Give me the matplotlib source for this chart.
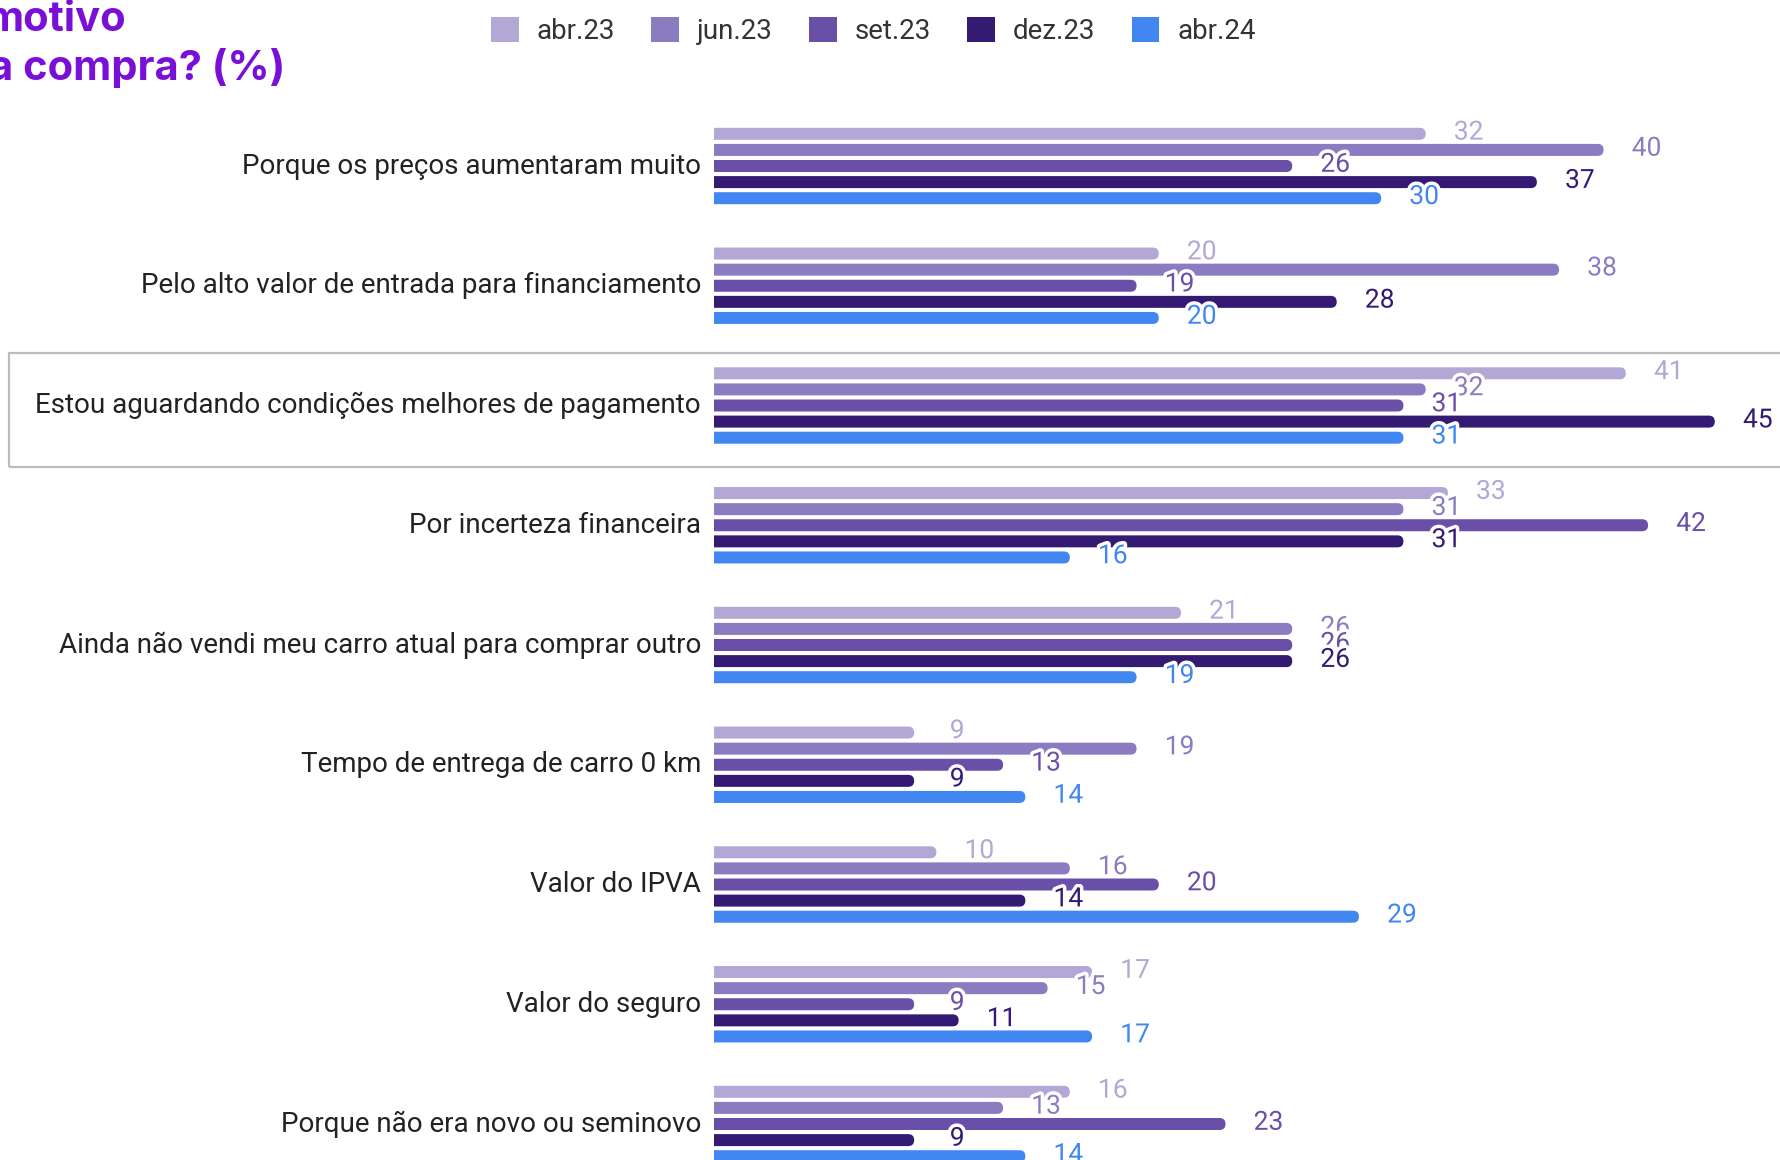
import numpy as np
import matplotlib
matplotlib.use("Agg")
import matplotlib.pyplot as plt
from matplotlib.patches import FancyBboxPatch, Rectangle, Patch
import matplotlib.patheffects as pe

plt.rcParams["font.family"] = ["Roboto", "DejaVu Sans"]

categories = [
    "Porque os preços aumentaram muito",
    "Pelo alto valor de entrada para financiamento",
    "Estou aguardando condições melhores de pagamento",
    "Por incerteza financeira",
    "Ainda não vendi meu carro atual para comprar outro",
    "Tempo de entrega de carro 0 km",
    "Valor do IPVA",
    "Valor do seguro",
    "Porque não era novo ou seminovo",
]
series = ["abr.23", "jun.23", "set.23", "dez.23", "abr.24"]
abr23 = [32, 20, 41, 33, 21, 9, 10, 17, 16]
jun23 = [40, 38, 32, 31, 26, 19, 16, 15, 13]
set23 = [26, 19, 31, 42, 26, 13, 20, 9, 23]
dez23 = [37, 28, 45, 31, 26, 9, 14, 11, 9]
abr24 = [30, 20, 31, 16, 19, 14, 29, 17, 14]
values = [abr23, jun23, set23, dez23, abr24]
colors = ["#b3a7d6", "#8b7cc1", "#6a4fa8", "#341a72", "#4286f1"]

W, H = 1781, 1160
fig = plt.figure(figsize=(W / 100, H / 100), dpi=100)

# axes: value 0 at x=714px, 22.24 px per unit; category centres 166px + 119.75px*i
x0_px = 714
ppu = 22.24
cat_top, cat_step = 166, 119.75
ax_top_px = 95
ax = fig.add_axes([x0_px / W, 0, 1 - x0_px / W, 1 - ax_top_px / H])
ax.set_xlim(0, (W - x0_px) / ppu)
ax.set_ylim((H - cat_top) / cat_step, -(cat_top - ax_top_px) / cat_step)
ax.axis("off")

y = np.arange(len(categories))
step = 16.1 / cat_step
bar_h = 12 / cat_step
ry = bar_h / 2
rx = 6 / ppu

for k, (name, vals, col) in enumerate(zip(series, values, colors)):
    yy = y + (k - 2) * step
    bars = ax.barh(yy, vals, height=bar_h, color=col)
    for b in bars:
        bx, by, bw, bh = b.get_x(), b.get_y(), b.get_width(), b.get_height()
        b.remove()
        p = FancyBboxPatch((bx - 1, by), bw + 1, bh,
                           boxstyle=f"round,pad=0,rounding_size={rx}",
                           mutation_aspect=ry / rx, fc=col, ec="none")
        ax.add_patch(p)
    for v, yv in zip(vals, yy):
        ax.text(v + 43 / ppu, yv - 0.01, str(v), color=col, fontsize=19,
                ha="center", va="center", clip_on=False,
                path_effects=[pe.withStroke(linewidth=5, foreground="white")])

for i, c in enumerate(categories):
    ax.text(-13 / ppu, i, c, ha="right", va="center", fontsize=20,
            color="#222222", clip_on=False)

# highlight box around third category
fig.patches.append(Rectangle((9 / W, 1 - 467 / H), 1, 114 / H,
                             transform=fig.transFigure, fill=False,
                             ec="#bdbdbd", lw=1.6))

# title (cut off on the left in the reference)
fig.text(126 / W, 1 - 31 / H, "motivo", ha="right", va="baseline",
         fontsize=30, fontweight="bold", color="#7a10d8", family="Inter")
fig.text(285 / W, 1 - 80 / H, "a compra? (%)", ha="right", va="baseline",
         fontsize=30, fontweight="bold", color="#7a10d8", family="Inter")

handles = [Patch(fc=c, ec="none", label=s) for s, c in zip(series, colors)]
fig.legend(handles=handles, loc="center left", bbox_to_anchor=(466 / W, 1 - 31 / H),
           ncol=5, frameon=False, fontsize=20, handlelength=1.0,
           handleheight=1.0, handletextpad=0.65, columnspacing=1.3,
           labelcolor="#333333")

fig.savefig("out.png", dpi=100)
